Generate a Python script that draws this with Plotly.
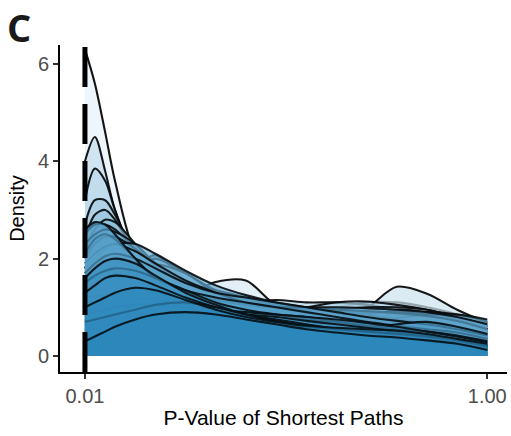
import plotly.graph_objects as go

# p-value grid (log-spaced sample points) at which densities were read
p_values = [0.01, 0.0112, 0.0126, 0.0141, 0.0178, 0.0224, 0.0316, 0.0447, 0.0631,
            0.0891, 0.126, 0.178, 0.251, 0.355, 0.501, 0.708, 1.0]

# density curves (drawn light -> dark)
dens_l1 = [6.3, 5.6, 4.6, 3.6, 2.1, 1.6, 1.25, 1.05, 0.9, 0.8, 0.72, 0.68, 0.62, 0.58, 0.55, 0.5, 0.4]
dens_l2 = [0.9, 1.0, 1.1, 1.15, 1.2, 1.2, 1.25, 1.52, 1.55, 1.05, 0.95, 1.0, 1.1, 1.1, 1.0, 0.85, 0.55]
dens_l3 = [1.1, 1.3, 1.45, 1.55, 1.6, 1.5, 1.3, 1.1, 0.9, 0.75, 0.7, 0.75, 0.98, 1.42, 1.28, 0.95, 0.68]
dens_l4 = [4.0, 4.5, 3.8, 3.0, 2.0, 1.6, 1.3, 1.1, 1.0, 0.9, 0.8, 0.75, 0.7, 0.65, 0.6, 0.55, 0.45]
dens_l5 = [3.2, 3.85, 3.6, 3.0, 2.0, 1.55, 1.3, 1.15, 1.0, 0.9, 0.85, 0.8, 0.75, 0.7, 0.65, 0.55, 0.4]
dens_l6 = [1.8, 2.2, 2.4, 2.4, 2.1, 1.7, 1.3, 1.1, 1.1, 1.15, 1.1, 1.1, 1.05, 0.95, 0.85, 0.75, 0.55]
dens_w1 = [1.4, 1.6, 1.7, 1.7, 1.6, 1.4, 1.15, 1.0, 0.95, 0.95, 1.0, 1.1, 1.12, 1.05, 0.95, 0.8, 0.6]
dens_m1 = [2.7, 3.2, 3.2, 2.9, 2.1, 1.6, 1.3, 1.1, 0.95, 0.85, 0.8, 0.75, 0.72, 0.7, 0.68, 0.6, 0.5]
dens_w2 = [2.3, 2.5, 2.55, 2.45, 2.1, 1.7, 1.3, 1.05, 0.9, 0.85, 0.9, 0.95, 1.0, 1.0, 0.95, 0.8, 0.62]
dens_m2 = [2.4, 2.9, 3.0, 2.8, 2.1, 1.65, 1.35, 1.15, 1.0, 0.85, 0.75, 0.7, 0.8, 0.95, 0.9, 0.8, 0.55]
dens_m3 = [2.2, 2.6, 2.65, 2.5, 1.9, 2.07, 1.55, 1.2, 1.0, 0.95, 0.9, 0.85, 0.8, 0.75, 0.7, 0.6, 0.45]
dens_w4 = [2.5, 2.7, 2.6, 2.3, 1.85, 2.0, 1.7, 1.35, 1.2, 1.05, 0.9, 0.8, 0.75, 0.72, 0.7, 0.65, 0.5]
dens_m4 = [2.2, 2.6, 2.8, 2.75, 2.3, 1.8, 1.4, 1.25, 1.1, 1.0, 0.95, 0.9, 0.85, 0.8, 0.78, 0.7, 0.55]
dens_m5 = [1.5, 1.55, 1.6, 1.65, 1.75, 1.88, 1.7, 1.3, 1.1, 1.0, 0.9, 0.8, 0.75, 0.7, 0.65, 0.6, 0.5]
dens_m6 = [2.5, 2.7, 2.7, 2.6, 2.2, 1.8, 1.5, 1.3, 1.15, 1.05, 0.95, 0.9, 0.9, 0.85, 0.8, 0.7, 0.6]
dens_w3 = [1.1, 1.2, 1.3, 1.4, 1.5, 1.55, 1.4, 1.2, 1.0, 0.85, 0.75, 0.7, 0.75, 0.85, 0.9, 0.85, 0.7]
dens_m7 = [2.3, 2.5, 2.6, 2.55, 2.3, 1.9, 1.45, 1.2, 1.05, 0.95, 0.9, 0.88, 0.88, 0.9, 0.85, 0.75, 0.55]
dens_m8 = [2.0, 2.3, 2.45, 2.45, 2.2, 1.85, 1.5, 1.35, 1.2, 1.0, 0.85, 0.72, 0.7, 0.78, 0.85, 0.85, 0.75]
dens_w5 = [1.8, 2.0, 2.2, 2.3, 2.3, 2.1, 1.75, 1.45, 1.25, 1.1, 1.0, 0.95, 0.85, 0.75, 0.68, 0.6, 0.45]
dens_m9 = [1.9, 2.1, 2.25, 2.3, 2.15, 1.9, 1.55, 1.3, 1.1, 1.0, 0.95, 0.95, 0.92, 0.88, 0.82, 0.72, 0.55]
dens_m10 = [2.1, 2.4, 2.5, 2.4, 2.0, 1.6, 1.3, 1.15, 1.05, 1.0, 1.0, 1.0, 0.98, 0.95, 0.9, 0.8, 0.65]
dens_m11 = [1.7, 1.9, 2.05, 2.1, 2.0, 1.8, 1.5, 1.3, 1.2, 1.1, 1.0, 0.9, 0.8, 0.72, 0.65, 0.55, 0.42]
dens_m12 = [2.6, 2.75, 2.7, 2.5, 2.0, 1.6, 1.35, 1.2, 1.1, 1.0, 0.9, 0.8, 0.7, 0.62, 0.55, 0.48, 0.35]
dens_d1 = [1.2, 1.22, 1.25, 1.25, 1.2, 1.15, 1.05, 0.95, 0.9, 0.85, 0.8, 0.7, 0.6, 0.65, 0.7, 0.6, 0.45]
dens_d2 = [1.5, 1.65, 1.75, 1.8, 1.75, 1.6, 1.35, 1.1, 0.95, 0.85, 0.75, 0.7, 0.62, 0.55, 0.5, 0.42, 0.3]
dens_d3 = [0.85, 0.9, 0.95, 1.0, 1.05, 1.05, 1.0, 0.95, 0.9, 0.85, 0.8, 0.75, 0.68, 0.6, 0.5, 0.4, 0.28]
dens_d4 = [0.47, 0.55, 0.62, 0.7, 0.82, 0.88, 0.92, 0.9, 0.85, 0.8, 0.72, 0.65, 0.58, 0.5, 0.42, 0.33, 0.22]
dens_d5 = [1.6, 1.8, 1.95, 2.0, 1.9, 1.65, 1.3, 1.05, 0.85, 0.75, 0.65, 0.55, 0.48, 0.42, 0.35, 0.28, 0.18]
dens_d6 = [1.3, 1.45, 1.6, 1.65, 1.6, 1.45, 1.2, 1.0, 0.85, 0.72, 0.62, 0.55, 0.5, 0.45, 0.38, 0.3, 0.15]
dens_d7 = [0.7, 0.75, 0.8, 0.85, 0.95, 1.05, 1.1, 1.0, 0.85, 0.7, 0.6, 0.55, 0.5, 0.45, 0.4, 0.32, 0.2]
dens_d8 = [1.0, 1.1, 1.2, 1.3, 1.4, 1.35, 1.15, 0.95, 0.8, 0.7, 0.62, 0.58, 0.55, 0.52, 0.45, 0.35, 0.25]
dens_d9 = [0.3, 0.4, 0.5, 0.6, 0.75, 0.85, 0.9, 0.85, 0.75, 0.65, 0.55, 0.48, 0.42, 0.38, 0.32, 0.25, 0.12]

curves = [dens_l1, dens_l2, dens_l3, dens_l4, dens_l5, dens_l6, dens_w1,
          dens_m1, dens_w2, dens_m2, dens_m3, dens_w4, dens_m4, dens_m5, dens_m6, dens_w3,
          dens_m7, dens_m8, dens_w5, dens_m9, dens_m10, dens_m11, dens_m12,
          dens_d1, dens_d2, dens_d3, dens_d4, dens_d5, dens_d6, dens_d7, dens_d8, dens_d9]

threshold = 0.01
x_tick_vals = [0.01, 1.0]
x_tick_text = ["0.01", "1.00"]
y_tick_vals = [0, 2, 4, 6]

light = (232, 242, 249)
dark = (43, 135, 187)


def mix(t):
    return tuple(round(light[i] + (dark[i] - light[i]) * t) for i in range(3))


fig = go.Figure()
n = len(curves)
for i, dens in enumerate(curves):
    t = (i / (n - 1)) ** 0.7
    r, g, b = mix(t)
    lc = tuple(round(c * 0.12 * t) for c in (r, g, b))
    fig.add_trace(go.Scatter(
        x=p_values, y=dens, mode="lines", line_shape="spline",
        line=dict(color=f"rgba({lc[0]},{lc[1]},{lc[2]},0.92)", width=2.1, smoothing=0.9),
        fill="tozeroy", fillcolor=f"rgba({r},{g},{b},0.7)",
        showlegend=False, hoverinfo="skip"))

y_range = [-0.33, 6.39]
fig.add_trace(go.Scatter(
    x=[threshold, threshold], y=y_range, mode="lines",
    line=dict(color="black", width=5, dash="40px,17px"),
    showlegend=False, hoverinfo="skip"))

axis_font = dict(family="Liberation Sans, Arial, sans-serif", size=20, color="#4d4d4d")
fig.update_layout(
    width=511, height=436,
    margin=dict(l=60, r=4, t=45, b=64),
    paper_bgcolor="white", plot_bgcolor="white",
    font=dict(family="Liberation Sans, Arial, sans-serif", color="black"),
    xaxis=dict(type="log", range=[-2.124, 0.098], tickvals=x_tick_vals, ticktext=x_tick_text,
               automargin=False,
               showgrid=False, zeroline=False, showline=True, linecolor="black", linewidth=2,
               ticks="outside", ticklen=5, tickwidth=1.5, tickcolor="#333333",
               tickfont=axis_font,
               title=dict(text="P-Value of Shortest Paths", font=dict(size=21, color="black"), standoff=4)),
    yaxis=dict(range=y_range, tickvals=y_tick_vals, showgrid=False, zeroline=False,
               automargin=False,
               showline=True, linecolor="black", linewidth=2,
               ticks="outside", ticklen=5, tickwidth=1.5, tickcolor="#333333",
               tickfont=axis_font,
               title=dict(text="Density", font=dict(size=20, color="black"), standoff=8)),
    annotations=[dict(text="<b>C</b>", xref="paper", yref="paper", x=-0.122, y=1.142,
                      xanchor="left", yanchor="top", showarrow=False,
                      font=dict(family="Open Sans, DejaVu Sans, sans-serif", size=38, color="#1a1a1a"))],
)

fig.write_html("out.html", config={"displayModeBar": False},
               post_script="document.body.style.margin='0';document.body.style.overflow='hidden';")
